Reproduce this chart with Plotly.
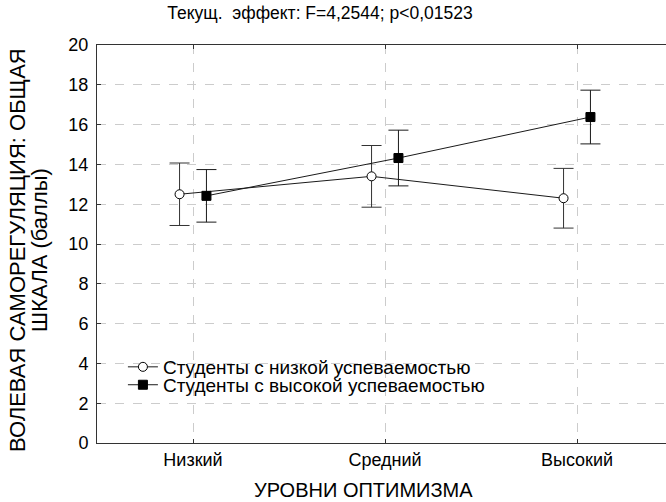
import plotly.graph_objects as go

categories = ["Низкий", "Средний", "Высокий"]
series_names = ["Студенты с низкой успеваемостью", "Студенты с высокой успеваемостью"]
low_mean = [12.5, 13.4, 12.3]
low_err = [1.57, 1.55, 1.5]
high_mean = [12.42, 14.32, 16.38]
high_err = [1.32, 1.4, 1.35]
yticks = [0, 2, 4, 6, 8, 10, 12, 14, 16, 18, 20]

offset = 0.07
xpos = list(range(len(categories)))

FONT = "Liberation Sans, Arial, sans-serif"

fig = go.Figure()
fig.add_trace(go.Scatter(
    x=[p - offset for p in xpos], y=low_mean, name=series_names[0],
    mode="lines+markers", legend="legend",
    line=dict(color="#1a1a1a", width=1),
    marker=dict(symbol="circle", size=9, color="white", line=dict(color="black", width=1)),
    error_y=dict(type="data", array=low_err, visible=True, color="#333333", thickness=1, width=10),
))
fig.add_trace(go.Scatter(
    x=[p + offset for p in xpos], y=high_mean, name=series_names[1],
    mode="lines+markers", legend="legend2",
    line=dict(color="#1a1a1a", width=1),
    marker=dict(symbol="square", size=9, color="black", line=dict(color="black", width=1)),
    error_y=dict(type="data", array=high_err, visible=True, color="#1a1a1a", thickness=1, width=10),
))

legend_common = dict(xanchor="left", yanchor="middle", bgcolor="rgba(0,0,0,0)",
                     font=dict(family=FONT, size=19, color="black"), itemwidth=30,
                     borderwidth=0)

fig.update_layout(
    width=674, height=502,
    margin=dict(l=97, r=1, t=45, b=59),
    paper_bgcolor="white", plot_bgcolor="white",
    font=dict(family=FONT, size=18, color="black"),
    title=dict(text="Текущ.  эффект: F=4,2544; p<0,01523", x=0.4748, xref="container",
               xanchor="center", y=0.974, yanchor="middle",
               font=dict(family=FONT, size=17.5, color="black")),
    showlegend=True,
    legend=dict(x=0.045, y=0.191, **legend_common),
    legend2=dict(x=0.045, y=0.146, **legend_common),
)
fig.update_xaxes(
    range=[-0.5, 2.5], tickvals=xpos, ticktext=categories,
    showline=True, linecolor="#333333", linewidth=1, mirror="allticks",
    ticks="inside", ticklen=4, tickcolor="#333333",
    showgrid=True, gridcolor="#cccccc", griddash="dash", gridwidth=1,
    zeroline=False, tickfont=dict(size=18),
)
fig.update_yaxes(
    range=[0, 20], tickvals=yticks,
    showline=True, linecolor="#333333", linewidth=1,
    ticks="inside", ticklen=4, tickcolor="#333333", ticklabelstandoff=4,
    showgrid=True, gridcolor="#cccccc", griddash="dash", gridwidth=1,
    zeroline=False, tickfont=dict(size=18),
)
fig.add_annotation(text="ВОЛЕВАЯ САМОРЕГУЛЯЦИЯ: ОБЩАЯ", textangle=-90,
                   xref="paper", yref="paper", x=-0.137, y=0.485,
                   xanchor="center", yanchor="middle", showarrow=False,
                   font=dict(family=FONT, size=22, color="black"))
fig.add_annotation(text="ШКАЛА (баллы)", textangle=-90,
                   xref="paper", yref="paper", x=-0.099, y=0.485,
                   xanchor="center", yanchor="middle", showarrow=False,
                   font=dict(family=FONT, size=22, color="black"))
fig.add_annotation(text="УРОВНИ ОПТИМИЗМА", xref="paper", yref="paper",
                   x=0.462, y=-0.118, xanchor="center", yanchor="middle",
                   showarrow=False, font=dict(family=FONT, size=20, color="black"))

fig.write_html("out.html", config={"displayModeBar": False},
               post_script="document.body.style.margin='0';")
